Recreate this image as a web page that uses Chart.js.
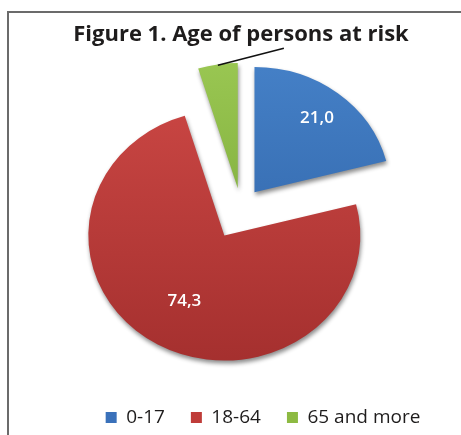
<!DOCTYPE html>
<html>
<head>
<meta charset="utf-8">
<script src="https://cdn.jsdelivr.net/npm/chart.js@4.4.0/dist/chart.umd.min.js"></script>
<style>
  html, body { margin: 0; padding: 0; background: #ffffff; }
  #wrap { position: relative; width: 461px; height: 435px; overflow: hidden; }
  #c { position: absolute; left: 0; top: 0; }
  #frame { position: absolute; left: 7px; top: 11px; right: -4px; bottom: -4px;
           border-top: 2px solid #6b6b6b; border-left: 2px solid #6b6b6b; pointer-events: none; }
</style>
</head>
<body>
<div id="wrap">
  <canvas id="c" width="461" height="435"></canvas>
  <div id="frame"></div>
</div>
<script>
// ---- data ----
const categories = ['0-17', '18-64', '65 and more'];
const values = [21.0, 74.3, 4.7];
const valueLabels = ['21,0', '74,3', ''];

// ---- styling ----
const baseColors  = ['#3a71ba', '#bf3c39', '#8dba42'];
const lightColors = ['#4682c9', '#cb4744', '#9cc954'];
const darkColors  = ['#2d60a3', '#a22e2d', '#74a232'];
const pullOut = [22, 34, 22];          // px each slice is pulled out of the pie (explosion)
const labelRadius = [0.75, 0.6];       // fraction of radius for value labels
const TILT = 0.92;                     // vertical squash to mimic 3D tilt
const PIE_RADIUS = 136;
const TEXT_COLOR = '#1e1c1c';

// Draw each arc element of the pie with its own explosion translation and a tilt
const explodePlugin = {
  id: 'explode',
  beforeDatasetDraw(chart, args) {
    const ctx = chart.ctx;
    args.meta.data.forEach((arc, i) => {
      const mid = (arc.startAngle + arc.endAngle) / 2;
      ctx.save();
      ctx.translate(0, arc.y);
      ctx.scale(1, TILT);
      ctx.translate(0, -arc.y);
      ctx.translate(Math.cos(mid) * pullOut[i], Math.sin(mid) * pullOut[i]);
      ctx.shadowColor = 'rgba(0,0,0,0.45)';
      ctx.shadowBlur = 4;
      ctx.shadowOffsetX = 1;
      ctx.shadowOffsetY = 3;
      arc.draw(ctx);
      ctx.restore();
    });
    return false;
  },
  afterDatasetsDraw(chart) {
    const ctx = chart.ctx;
    const meta = chart.getDatasetMeta(0);
    meta.data.forEach((arc, i) => {
      const mid = (arc.startAngle + arc.endAngle) / 2;
      const s = pullOut[i];
      const R = arc.outerRadius;
      const pt = r => ({ x: arc.x + Math.cos(mid) * (s + r),
                         y: arc.y + Math.sin(mid) * (s + r) * TILT });
      if (valueLabels[i]) {
        const p = pt(labelRadius[i] * R);
        ctx.save();
        ctx.fillStyle = '#ffffff';
        ctx.font = '600 17px "Open Sans"';
        ctx.textAlign = 'center';
        ctx.textBaseline = 'middle';
        ctx.fillText(valueLabels[i], p.x, p.y);
        ctx.restore();
      } else {
        // leader line for the small slice
        const p = pt(R - 1);
        ctx.save();
        ctx.strokeStyle = '#111111';
        ctx.lineWidth = 1.6;
        ctx.beginPath();
        ctx.moveTo(p.x, p.y);
        ctx.lineTo(p.x + 66, p.y - 17);
        ctx.stroke();
        ctx.restore();
      }
    });
  }
};

const legendShift = {
  id: 'legendShift',
  afterLayout(chart) {
    const L = chart.legend;
    if (!L) return;
    L.left += 22; L.right += 22;
    L.top += 14; L.bottom += 14;
  }
};

new Chart(document.getElementById('c'), {
  type: 'pie',
  data: {
    labels: categories,
    datasets: [{
      data: values,
      radius: PIE_RADIUS,
      borderWidth: 0,
      backgroundColor: (c) => {
        const i = c.dataIndex;
        const chart = c.chart;
        const area = chart.chartArea;
        if (!area) return baseColors[i];
        const g = chart.ctx.createLinearGradient(0, area.top, 0, area.bottom);
        g.addColorStop(0, lightColors[i]);
        g.addColorStop(1, darkColors[i]);
        return g;
      }
    }]
  },
  options: {
    responsive: false,
    animation: false,
    layout: { padding: { left: 21, right: 0, top: 0, bottom: 12 } },
    plugins: {
      title: {
        display: true,
        text: 'Figure 1. Age of persons at risk',
        color: TEXT_COLOR,
        font: { family: 'Open Sans', size: 22, weight: 'bold' },
        padding: { top: 22, bottom: 0 }
      },
      legend: {
        display: true,
        position: 'bottom',
        labels: {
          boxWidth: 11,
          boxHeight: 11,
          padding: 26,
          color: TEXT_COLOR,
          font: { family: 'Open Sans', size: 19 },
          generateLabels: () => categories.map((c, i) => ({
            text: c, fillStyle: baseColors[i], strokeStyle: baseColors[i],
            lineWidth: 0, hidden: false, index: i, fontColor: TEXT_COLOR
          }))
        }
      },
      tooltip: { enabled: false }
    }
  },
  plugins: [explodePlugin, legendShift]
});
</script>
</body>
</html>
